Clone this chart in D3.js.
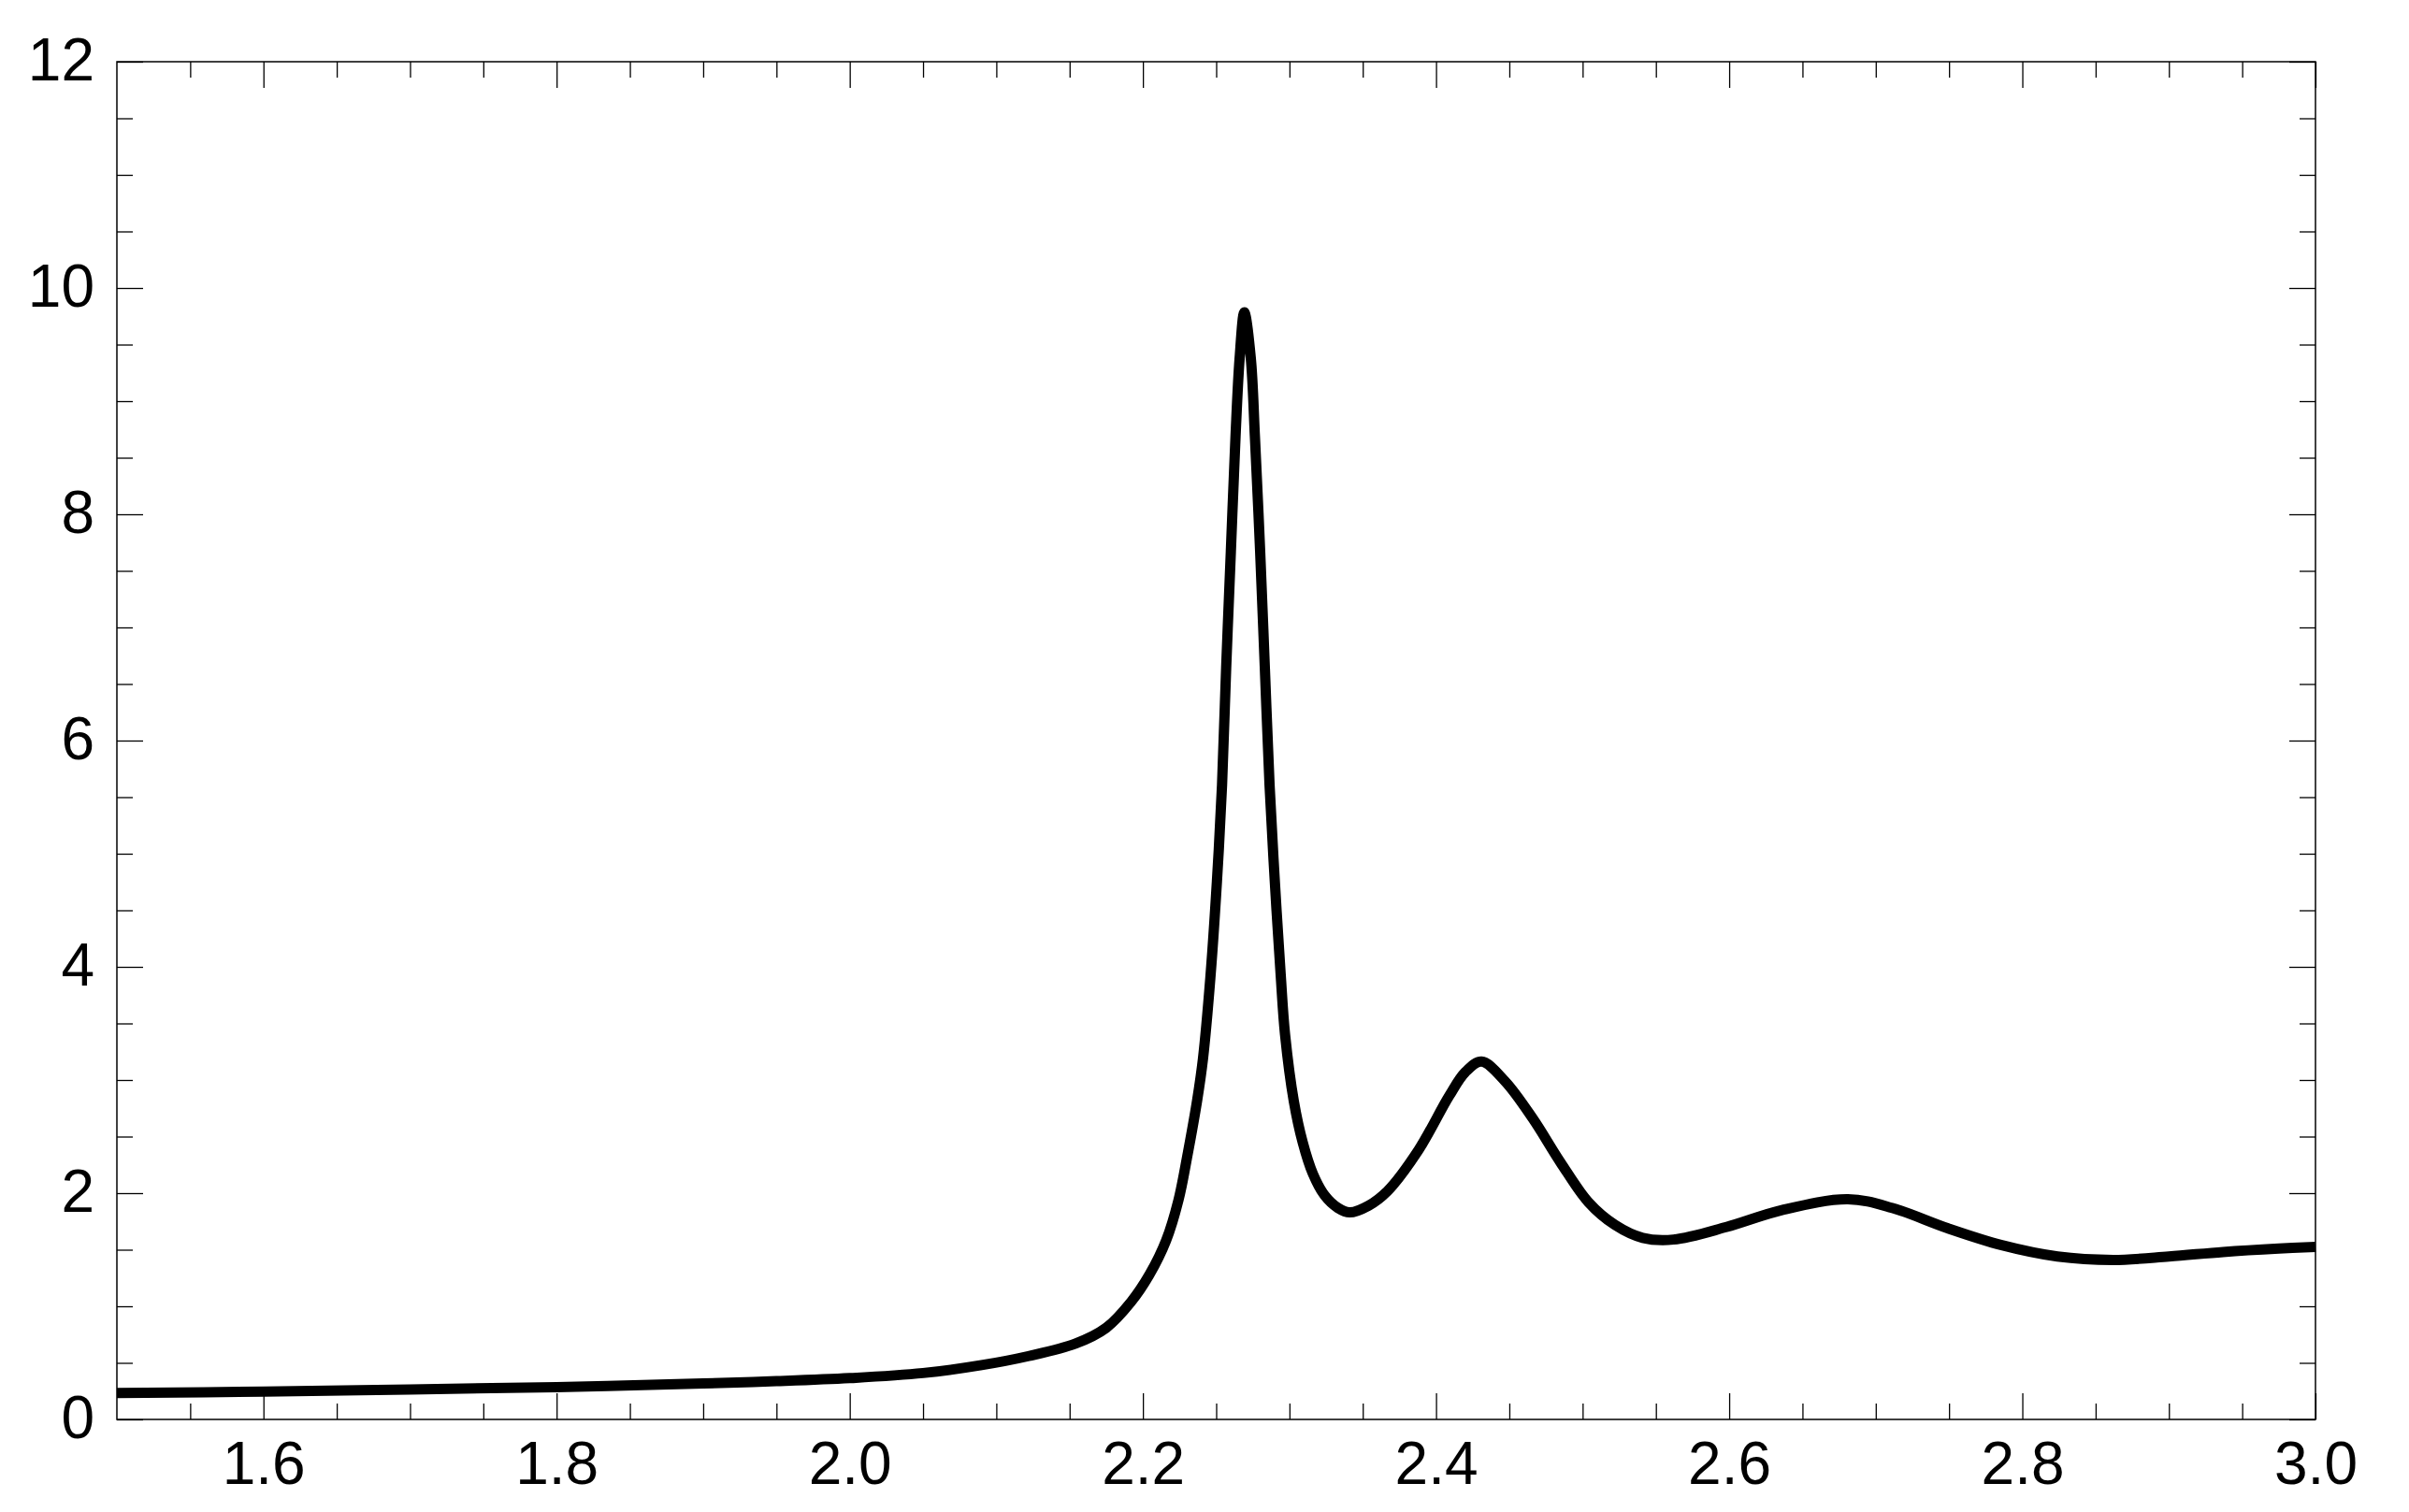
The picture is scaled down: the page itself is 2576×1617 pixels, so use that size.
<!DOCTYPE html>
<html lang="en">
<head>
  <meta charset="UTF-8">
  <title>Spectrum</title>
  <script src="https://cdn.jsdelivr.net/npm/d3@7/dist/d3.min.js"></script>
  <style>
    body { margin: 0; background: #fff; }
    svg { display: block; }
  </style>
</head>
<body>
  <div id="chart"></div>

  <script>
    // values
    var energy = [
      1.50, 1.60, 1.70, 1.80, 1.90, 1.95, 2.00, 2.05, 2.09, 2.122,
      2.154, 2.175, 2.192, 2.2045, 2.2158, 2.2243, 2.2306, 2.237, 2.241, 2.246,
      2.2505, 2.254, 2.2568, 2.260, 2.2632, 2.266, 2.2692, 2.2736, 2.2764, 2.280,
      2.2832, 2.2864, 2.290, 2.294, 2.297, 2.303, 2.309, 2.316, 2.324, 2.333,
      2.341, 2.354, 2.367, 2.388, 2.409, 2.420, 2.431, 2.447, 2.466, 2.485,
      2.504, 2.522, 2.541, 2.562, 2.598, 2.636, 2.681, 2.711, 2.749, 2.786,
      2.824, 2.862, 2.900, 2.937, 2.975, 3.00
    ];
    var intensity = [
      0.234, 0.246, 0.265, 0.286, 0.318, 0.338, 0.365, 0.41, 0.48, 0.56,
      0.67, 0.81, 1.04, 1.28, 1.58, 1.94, 2.35, 2.82, 3.19, 3.90,
      4.755, 5.61, 6.64, 7.67, 8.69, 9.38, 9.785, 9.38, 8.69, 7.67,
      6.64, 5.61, 4.755, 3.93, 3.40, 2.81, 2.45, 2.17, 1.98, 1.87,
      1.83, 1.89, 2.02, 2.38, 2.86, 3.07, 3.163, 2.99, 2.66, 2.27,
      1.92, 1.72, 1.605, 1.59, 1.70, 1.85, 1.946, 1.87, 1.69, 1.54,
      1.44, 1.41, 1.44, 1.48, 1.51, 1.525
    ];
    var xTicks = [1.6, 1.8, 2.0, 2.2, 2.4, 2.6, 2.8, 3.0];
    var yTicks = [0, 2, 4, 6, 8, 10, 12];

    var W = 2576, H = 1617;
    var margin = { top: 66, right: 100, bottom: 99, left: 125 },
      width = W - margin.left - margin.right,
      height = H - margin.top - margin.bottom;

    var svg = d3.select("#chart")
      .append("svg")
      .attr("width", W)
      .attr("height", H)
      .append("g")
      .attr("transform", "translate(" + margin.left + "," + margin.top + ")");

    var x = d3.scaleLinear().domain([1.5, 3.0]).range([0, width]);
    var y = d3.scaleLinear().domain([0, 12]).range([height, 0]);

    // minor ticks: every 0.05 on x, every 0.5 on y
    var xMinor = d3.range(1.55, 3.0, 0.05).filter(function (v) {
      return Math.abs(v * 5 - Math.round(v * 5)) > 1e-6;
    });
    var yMinor = d3.range(0.5, 12, 0.5).filter(function (v) { return v % 2 !== 0; });

    var font = "'Liberation Sans', Arial, sans-serif";

    function styleAxis(g) {
      g.select(".domain").remove();
      g.selectAll(".tick line").attr("stroke", "#000").attr("stroke-width", 1.3);
    }

    // bottom
    svg.append("g")
      .attr("transform", "translate(0," + height + ")")
      .call(d3.axisBottom(x).tickValues(xTicks).tickSize(-28).tickFormat(d3.format(".1f")))
      .call(styleAxis)
      .call(function (g) {
        g.selectAll("text")
          .attr("y", 69).attr("dy", null)
          .attr("fill", "#000")
          .style("font-family", font).style("font-size", "64px");
      });
    svg.append("g")
      .attr("transform", "translate(0," + height + ")")
      .call(d3.axisBottom(x).tickValues(xMinor).tickSize(-17).tickFormat(""))
      .call(styleAxis);

    // top
    svg.append("g")
      .call(d3.axisTop(x).tickValues(xTicks).tickSize(-28).tickFormat(""))
      .call(styleAxis);
    svg.append("g")
      .call(d3.axisTop(x).tickValues(xMinor).tickSize(-17).tickFormat(""))
      .call(styleAxis);

    // left
    svg.append("g")
      .call(d3.axisLeft(y).tickValues(yTicks).tickSize(-28).tickPadding(24).tickFormat(d3.format("d")))
      .call(styleAxis)
      .call(function (g) {
        g.selectAll("text")
          .attr("dy", "0.305em")
          .attr("fill", "#000")
          .style("font-family", font).style("font-size", "64px");
      });
    svg.append("g")
      .call(d3.axisLeft(y).tickValues(yMinor).tickSize(-17).tickFormat(""))
      .call(styleAxis);

    // right
    svg.append("g")
      .attr("transform", "translate(" + width + ",0)")
      .call(d3.axisRight(y).tickValues(yTicks).tickSize(-28).tickFormat(""))
      .call(styleAxis);
    svg.append("g")
      .attr("transform", "translate(" + width + ",0)")
      .call(d3.axisRight(y).tickValues(yMinor).tickSize(-17).tickFormat(""))
      .call(styleAxis);

    // frame
    svg.append("rect")
      .attr("width", width)
      .attr("height", height)
      .attr("fill", "none")
      .attr("stroke", "#000")
      .attr("stroke-width", 1.5);

    // the curve
    var pts = energy.map(function (e, i) { return [e, intensity[i]]; });
    var line = d3.line()
      .x(function (d) { return x(d[0]); })
      .y(function (d) { return y(d[1]); })
      .curve(d3.curveCatmullRom.alpha(0.5));

    svg.append("path")
      .datum(pts)
      .attr("fill", "none")
      .attr("stroke", "#000")
      .attr("stroke-width", 11)
      .attr("stroke-linejoin", "round")
      .attr("d", line);
  </script>
</body>
</html>
